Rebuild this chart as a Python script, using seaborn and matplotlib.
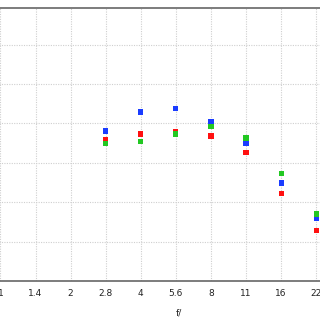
import matplotlib
matplotlib.use("Agg")
import matplotlib.pyplot as plt
import seaborn as sns
import pandas as pd
import numpy as np

fstops = ["1", "1.4", "2", "2.8", "4", "5.6", "8", "11", "16", "22"]
meas_stops = ["2.8", "4", "5.6", "8", "11", "16", "22"]
blue_vals = [3.81, 4.29, 4.37, 4.04, 3.50, 2.49, 1.60]
red_vals = [3.58, 3.73, 3.80, 3.68, 3.27, 2.23, 1.29]
green_vals = [3.50, 3.55, 3.73, 3.93, 3.63, 2.72, 1.70]

pos = {s: i for i, s in enumerate(fstops)}
rows = []
for name, vals in [("blue", blue_vals), ("red", red_vals), ("green", green_vals)]:
    for s, v in zip(meas_stops, vals):
        rows.append({"x": pos[s], "y": v, "ch": name})
df = pd.DataFrame(rows)

sns.set_style("white")
fig = plt.figure(figsize=(3.2, 3.2), dpi=100)
ax = fig.add_axes([-0.002, 39 / 320, 360 / 320, 273 / 320])
sns.scatterplot(data=df, x="x", y="y", hue="ch",
                palette={"blue": "#1a3cff", "red": "#ff1010", "green": "#22c822"},
                marker="s", s=14, linewidth=0, ax=ax, legend=False, zorder=3)
ax.set_xlim(-0.03, 10.23)
ax.set_ylim(0, 6.93)
ax.set_xticks(range(len(fstops)))
ax.set_xticklabels(fstops, fontsize=6.5, color="#222222")
ax.set_yticks(range(1, 7))
ax.set_yticklabels([])
ax.grid(True, color="#cfcfcf", linestyle=(0, (1, 1.2)), linewidth=0.8)
ax.tick_params(axis="x", direction="in", length=4, width=0.8, color="#555555", pad=6)
ax.tick_params(axis="y", length=0)
for side in ["top", "bottom"]:
    ax.spines[side].set_color("#666666")
    ax.spines[side].set_linewidth(1.2)
ax.spines["left"].set_visible(False)
ax.spines["right"].set_visible(False)
ax.set_xlabel("f/", fontsize=6.5, color="#222222", labelpad=7)
ax.set_ylabel("")
fig.savefig("out.png", dpi=100)
